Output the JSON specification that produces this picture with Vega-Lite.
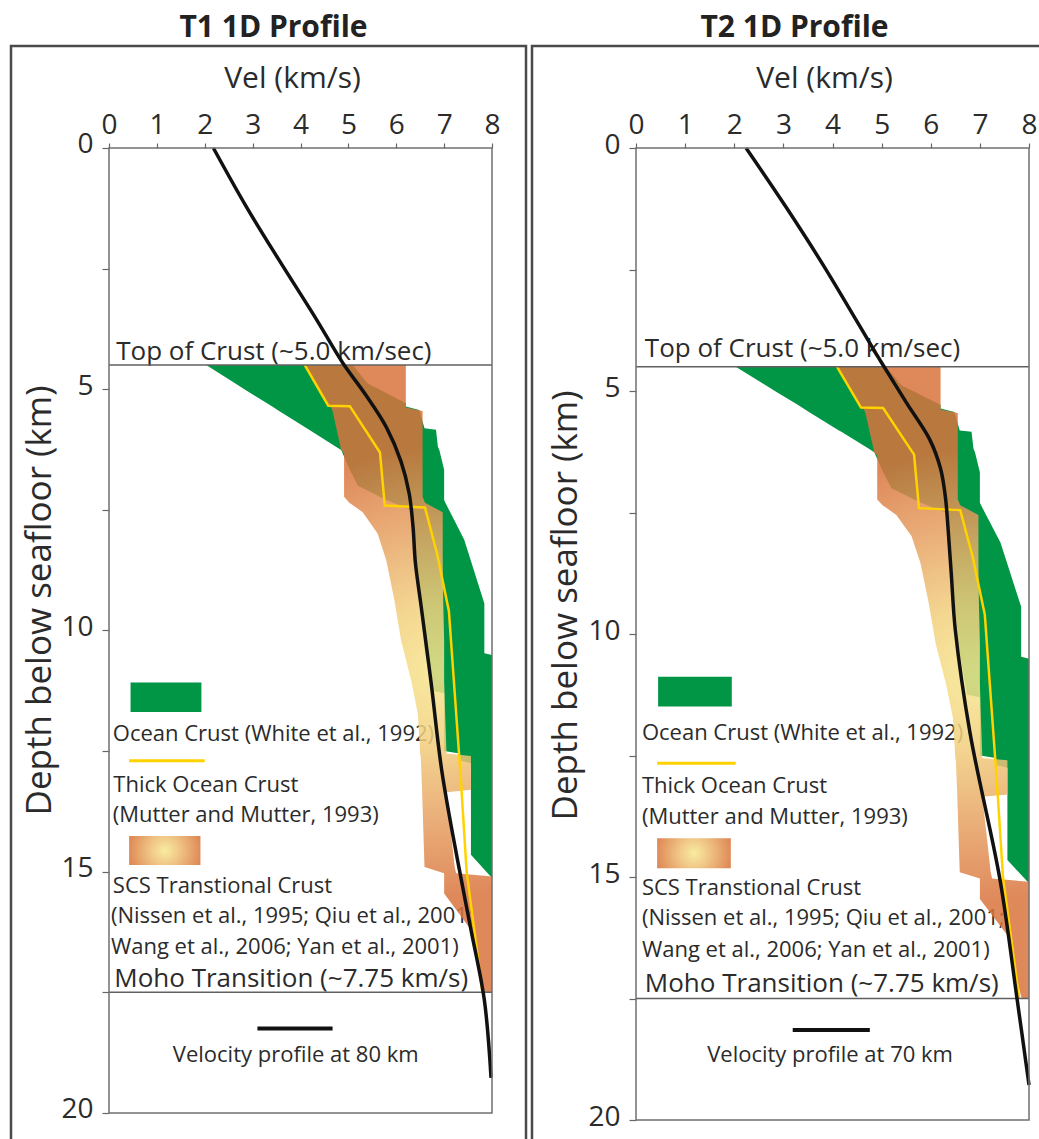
{
  "$schema": "https://vega.github.io/schema/vega-lite/v6.json",
  "background": "white",
  "padding": {"left": 9, "top": 11, "right": 0, "bottom": 0},
  "spacing": 2,
  "config": {
    "font": "Open Sans",
    "view": {"stroke": "#4a4a4a", "strokeWidth": 2.5},
    "text": {"color": "#2b2b2b"}
  },
  "datasets": {
    "box": [{"v0": 0, "v1": 8, "d0": 0, "d1": 20}],
    "horizons": [{"depth": 4.5}, {"depth": 17.5}],
    "green": [
      {"depth": 4.5, "vmin": 2.03, "vmax": 5.09},
      {"depth": 4.88, "vmin": 2.64, "vmax": 5.4},
      {"depth": 5.02, "vmin": 2.86, "vmax": 5.68},
      {"depth": 5.29, "vmin": 3.3, "vmax": 6.2},
      {"depth": 5.36, "vmin": 3.41, "vmax": 6.2},
      {"depth": 5.43, "vmin": 3.52, "vmax": 6.48},
      {"depth": 5.81, "vmin": 4.13, "vmax": 6.59},
      {"depth": 5.84, "vmin": 4.18, "vmax": 6.83},
      {"depth": 6.19, "vmin": 4.74, "vmax": 6.87},
      {"depth": 6.26, "vmin": 4.85, "vmax": 6.9},
      {"depth": 6.67, "vmin": 5.03, "vmax": 7.0},
      {"depth": 7.0, "vmin": 5.2, "vmax": 7.0},
      {"depth": 7.3, "vmin": 5.8, "vmax": 7.0},
      {"depth": 7.5, "vmin": 6.3, "vmax": 7.1},
      {"depth": 7.71, "vmin": 6.33, "vmax": 7.21},
      {"depth": 8.12, "vmin": 6.38, "vmax": 7.42},
      {"depth": 9.44, "vmin": 6.49, "vmax": 7.84},
      {"depth": 10.47, "vmin": 6.6, "vmax": 7.84},
      {"depth": 10.51, "vmin": 6.61, "vmax": 8.0},
      {"depth": 11.25, "vmin": 6.74, "vmax": 8.0},
      {"depth": 11.3, "vmin": 7.0, "vmax": 8.0},
      {"depth": 12.5, "vmin": 7.0, "vmax": 8.0},
      {"depth": 12.55, "vmin": 7.32, "vmax": 8.0},
      {"depth": 12.7, "vmin": 7.35, "vmax": 8.0},
      {"depth": 12.75, "vmin": 7.56, "vmax": 8.0},
      {"depth": 14.65, "vmin": 7.56, "vmax": 8.0},
      {"depth": 15.13, "vmin": 8.0, "vmax": 8.0}
    ],
    "orange": [
      {"depth": 4.5, "vmin": 4.09, "vmax": 6.2},
      {"depth": 5.34, "vmin": 4.58, "vmax": 6.2},
      {"depth": 5.38, "vmin": 4.64, "vmax": 6.2},
      {"depth": 5.45, "vmin": 4.67, "vmax": 6.55},
      {"depth": 6.26, "vmin": 4.85, "vmax": 6.55},
      {"depth": 6.33, "vmin": 4.91, "vmax": 6.55},
      {"depth": 7.23, "vmin": 4.91, "vmax": 6.55},
      {"depth": 7.35, "vmin": 5.02, "vmax": 6.6},
      {"depth": 7.55, "vmin": 5.3, "vmax": 6.97},
      {"depth": 7.99, "vmin": 5.61, "vmax": 6.97},
      {"depth": 8.54, "vmin": 5.79, "vmax": 6.97},
      {"depth": 9.37, "vmin": 5.96, "vmax": 6.98},
      {"depth": 10.2, "vmin": 6.1, "vmax": 7.0},
      {"depth": 11.03, "vmin": 6.31, "vmax": 7.0},
      {"depth": 11.72, "vmin": 6.45, "vmax": 7.02},
      {"depth": 12.55, "vmin": 6.5, "vmax": 7.05},
      {"depth": 12.6, "vmin": 6.51, "vmax": 7.56},
      {"depth": 13.3, "vmin": 6.54, "vmax": 7.56},
      {"depth": 13.35, "vmin": 6.54, "vmax": 7.05},
      {"depth": 14.9, "vmin": 6.59, "vmax": 7.22},
      {"depth": 15.03, "vmin": 7.0, "vmax": 7.25},
      {"depth": 15.1, "vmin": 7.0, "vmax": 8.0},
      {"depth": 15.45, "vmin": 7.0, "vmax": 8.0},
      {"depth": 16.2, "vmin": 7.56, "vmax": 8.0},
      {"depth": 17.17, "vmin": 7.77, "vmax": 8.0},
      {"depth": 17.5, "vmin": 7.85, "vmax": 8.0}
    ],
    "thick": [
      {"vel": 4.09, "depth": 4.5},
      {"vel": 4.58, "depth": 5.34},
      {"vel": 5.03, "depth": 5.35},
      {"vel": 5.66, "depth": 6.31},
      {"vel": 5.76, "depth": 7.41},
      {"vel": 6.6, "depth": 7.45},
      {"vel": 6.85, "depth": 8.4},
      {"vel": 7.1, "depth": 9.6},
      {"vel": 7.2, "depth": 11.0},
      {"vel": 7.35, "depth": 13.1},
      {"vel": 7.47, "depth": 15.0},
      {"vel": 7.8, "depth": 17.5}
    ],
    "t1curve": [
      {"vel": 2.18, "depth": 0},
      {"vel": 2.87, "depth": 1.22},
      {"vel": 3.55, "depth": 2.32},
      {"vel": 4.3, "depth": 3.5},
      {"vel": 4.88, "depth": 4.45},
      {"vel": 5.35, "depth": 5.1},
      {"vel": 5.8, "depth": 5.8},
      {"vel": 6.1, "depth": 6.5},
      {"vel": 6.27, "depth": 7.16},
      {"vel": 6.35, "depth": 7.85},
      {"vel": 6.4, "depth": 8.6},
      {"vel": 6.52, "depth": 9.5},
      {"vel": 6.73, "depth": 11.1},
      {"vel": 6.95, "depth": 12.9},
      {"vel": 7.28, "depth": 14.76},
      {"vel": 7.56, "depth": 16.2},
      {"vel": 7.84, "depth": 17.66},
      {"vel": 7.98, "depth": 19.27}
    ],
    "t2curve": [
      {"vel": 2.24, "depth": 0},
      {"vel": 3.05, "depth": 1.21},
      {"vel": 3.83, "depth": 2.44},
      {"vel": 4.88, "depth": 4.22},
      {"vel": 5.05, "depth": 4.5},
      {"vel": 5.51, "depth": 5.25},
      {"vel": 5.98, "depth": 6.0},
      {"vel": 6.2, "depth": 6.6},
      {"vel": 6.3, "depth": 7.2},
      {"vel": 6.35, "depth": 7.8},
      {"vel": 6.42, "depth": 8.8},
      {"vel": 6.5, "depth": 9.92},
      {"vel": 6.8, "depth": 12.04},
      {"vel": 7.41, "depth": 15.06},
      {"vel": 7.75, "depth": 17.46},
      {"vel": 8.0, "depth": 19.28}
    ],
    "t1small": [
      {"vel": 0.08, "depth": 12.3, "text": "Ocean Crust (White et al., 1992)"},
      {"vel": 0.09, "depth": 13.34, "text": "Thick Ocean Crust"},
      {"vel": 0.08, "depth": 13.96, "text": "(Mutter and Mutter, 1993)"},
      {"vel": 0.08, "depth": 15.45, "text": "SCS Transtional Crust"},
      {"vel": 0.04, "depth": 16.07, "text": "(Nissen et al., 1995; Qiu et al., 2001;"},
      {"vel": 0.04, "depth": 16.7, "text": "Wang et al., 2006; Yan et al., 2001)"}
    ],
    "t1big": [
      {"vel": 0.15, "depth": 4.39, "text": "Top of Crust (~5.0 km/sec)"},
      {"vel": 0.11, "depth": 17.38, "text": "Moho Transition (~7.75 km/s)"}
    ],
    "t1note": [{"vel": 3.9, "depth": 18.94, "text": "Velocity profile at 80 km"}],
    "t1key": [
      {"item": "ocean", "v0": 0.45, "v1": 1.93, "d0": 11.08, "d1": 11.69},
      {"item": "thick", "v0": 0.42, "v1": 2.0, "d0": 12.7},
      {"item": "scs", "v0": 0.42, "v1": 1.91, "d0": 14.26, "d1": 14.86},
      {"item": "profile", "v0": 3.1, "v1": 4.67, "d0": 18.25}
    ],
    "t2small": [
      {"vel": 0.12, "depth": 12.18, "text": "Ocean Crust (White et al., 1992)"},
      {"vel": 0.12, "depth": 13.28, "text": "Thick Ocean Crust"},
      {"vel": 0.12, "depth": 13.9, "text": "(Mutter and Mutter, 1993)"},
      {"vel": 0.12, "depth": 15.37, "text": "SCS Transtional Crust"},
      {"vel": 0.12, "depth": 15.99, "text": "(Nissen et al., 1995; Qiu et al., 2001;"},
      {"vel": 0.12, "depth": 16.64, "text": "Wang et al., 2006; Yan et al., 2001)"}
    ],
    "t2big": [
      {"vel": 0.18, "depth": 4.29, "text": "Top of Crust (~5.0 km/sec)"},
      {"vel": 0.18, "depth": 17.36, "text": "Moho Transition (~7.75 km/s)"}
    ],
    "t2note": [{"vel": 3.95, "depth": 18.8, "text": "Velocity profile at 70 km"}],
    "t2key": [
      {"item": "ocean", "v0": 0.45, "v1": 1.95, "d0": 10.88, "d1": 11.49},
      {"item": "thick", "v0": 0.43, "v1": 2.03, "d0": 12.66},
      {"item": "scs", "v0": 0.43, "v1": 1.93, "d0": 14.2, "d1": 14.82},
      {"item": "profile", "v0": 3.19, "v1": 4.76, "d0": 18.15}
    ]
  },
  "hconcat": [
    {
      "title": {"text": "T1 1D Profile", "fontSize": 30, "fontWeight": "bold", "color": "#222222", "anchor": "middle", "dx": 5, "offset": -21, "baseline": "alphabetic"},
      "width": 515,
      "height": 1104,
      "layer": [
        {
          "data": {"name": "t1small"},
          "mark": {"type": "text", "align": "left", "baseline": "alphabetic", "fontSize": 22},
          "encoding": {"x": {"field": "vel", "type": "quantitative"}, "y": {"field": "depth", "type": "quantitative"}, "text": {"field": "text"}}
        },
        {
          "data": {"name": "t1big"},
          "mark": {"type": "text", "align": "left", "baseline": "alphabetic", "fontSize": 26},
          "encoding": {"x": {"field": "vel", "type": "quantitative"}, "y": {"field": "depth", "type": "quantitative"}, "text": {"field": "text"}}
        },
        {
          "data": {"name": "t1note"},
          "mark": {"type": "text", "align": "center", "baseline": "alphabetic", "fontSize": 22},
          "encoding": {"x": {"field": "vel", "type": "quantitative"}, "y": {"field": "depth", "type": "quantitative"}, "text": {"field": "text"}}
        },
        {
          "data": {"name": "green"},
          "mark": {"type": "area", "orient": "horizontal", "color": "#009646", "opacity": 1},
          "encoding": {"y": {"field": "depth", "type": "quantitative"}, "x": {"field": "vmin", "type": "quantitative"}, "x2": {"field": "vmax"}}
        },
        {
          "data": {"name": "orange"},
          "mark": {"type": "area", "orient": "horizontal", "opacity": 0.85,
            "color": {"gradient": "radial", "x1": 0.565, "y1": 0.49, "r1": 0, "x2": 0.565, "y2": 0.49, "r2": 0.36,
              "stops": [{"offset": 0, "color": "#f7e68f"}, {"offset": 0.3, "color": "#f2d07e"}, {"offset": 0.65, "color": "#e6a062"}, {"offset": 1, "color": "#d9733d"}]}},
          "encoding": {"y": {"field": "depth", "type": "quantitative"}, "x": {"field": "vmin", "type": "quantitative"}, "x2": {"field": "vmax"}}
        },
        {
          "data": {"name": "thick"},
          "mark": {"type": "line", "color": "#ffd200", "strokeWidth": 2.5},
          "encoding": {"x": {"field": "vel", "type": "quantitative"}, "y": {"field": "depth", "type": "quantitative"}}
        },
        {
          "data": {"name": "horizons"},
          "mark": {"type": "rule", "color": "#606060", "strokeWidth": 1.5},
          "encoding": {"x": {"datum": 0, "type": "quantitative"}, "x2": {"datum": 8}, "y": {"field": "depth", "type": "quantitative"}}
        },
        {
          "data": {"name": "t1curve"},
          "mark": {"type": "line", "color": "#111111", "strokeWidth": 3.5, "interpolate": "catmull-rom"},
          "encoding": {"x": {"field": "vel", "type": "quantitative"}, "y": {"field": "depth", "type": "quantitative"}}
        },
        {
          "data": {"name": "t1key"},
          "transform": [{"filter": "datum.item === 'ocean'"}],
          "mark": {"type": "rect", "color": "#009646"},
          "encoding": {"x": {"field": "v0", "type": "quantitative"}, "x2": {"field": "v1"}, "y": {"field": "d0", "type": "quantitative"}, "y2": {"field": "d1"}}
        },
        {
          "data": {"name": "t1key"},
          "transform": [{"filter": "datum.item === 'scs'"}],
          "mark": {"type": "rect", "opacity": 0.9,
            "color": {"gradient": "radial", "x1": 0.5, "y1": 0.5, "r1": 0, "x2": 0.5, "y2": 0.5, "r2": 0.55,
              "stops": [{"offset": 0, "color": "#f7ea95"}, {"offset": 0.35, "color": "#efc27a"}, {"offset": 1, "color": "#d9733d"}]}},
          "encoding": {"x": {"field": "v0", "type": "quantitative"}, "x2": {"field": "v1"}, "y": {"field": "d0", "type": "quantitative"}, "y2": {"field": "d1"}}
        },
        {
          "data": {"name": "t1key"},
          "transform": [{"filter": "datum.item === 'thick'"}],
          "mark": {"type": "rule", "color": "#ffd200", "strokeWidth": 3},
          "encoding": {"x": {"field": "v0", "type": "quantitative"}, "x2": {"field": "v1"}, "y": {"field": "d0", "type": "quantitative"}}
        },
        {
          "data": {"name": "t1key"},
          "transform": [{"filter": "datum.item === 'profile'"}],
          "mark": {"type": "rule", "color": "#111111", "strokeWidth": 4},
          "encoding": {"x": {"field": "v0", "type": "quantitative"}, "x2": {"field": "v1"}, "y": {"field": "d0", "type": "quantitative"}}
        },
        {
          "data": {"name": "box"},
          "mark": {"type": "rect", "fillOpacity": 0, "fill": "white", "stroke": "#707070", "strokeWidth": 1.5},
          "encoding": {
            "x": {"field": "v0", "type": "quantitative",
              "scale": {"domain": [-2.047, 8.71], "nice": false, "zero": false},
              "axis": {"orient": "top", "offset": -102, "values": [0, 0.5, 1, 1.5, 2, 2.5, 3, 3.5, 4, 4.5, 5, 5.5, 6, 6.5, 7, 7.5, 8],
                "labelExpr": "datum.value % 1 === 0 ? '' + datum.value : ''", "domain": false, "grid": false,
                "tickSize": 5, "tickColor": "#666666", "tickWidth": 1.2, "labelFontSize": 28, "labelColor": "#2b2b2b",
                "labelPadding": 10, "labelBaseline": "alphabetic", "labelFlush": false, "labelOverlap": false,
                "title": "Vel (km/s)", "titleFontSize": 30, "titleFontWeight": "normal", "titleColor": "#2b2b2b",
                "titleX": 281, "titleY": -61, "titleBaseline": "alphabetic", "titleAlign": "center"}},
            "x2": {"field": "v1"},
            "y": {"field": "d0", "type": "quantitative",
              "scale": {"domain": [-2.114, 20.767], "nice": false, "zero": false, "reverse": true},
              "axis": {"orient": "left", "offset": -98, "values": [0, 2.5, 5, 7.5, 10, 12.5, 15, 17.5, 20],
                "labelExpr": "datum.value % 5 === 0 ? '' + datum.value : ''", "domain": false, "grid": false,
                "tickSize": 7, "tickColor": "#666666", "tickWidth": 1.2, "labelFontSize": 28, "labelColor": "#2b2b2b",
                "labelPadding": 9, "labelBaseline": "middle", "labelOffset": -3, "labelFlush": false, "labelOverlap": false,
                "title": "Depth below seafloor (km)", "titleFontSize": 35, "titleFontWeight": "normal", "titleColor": "#2b2b2b",
                "titleX": -70, "titleY": 554, "titleAngle": 270, "titleAlign": "center", "titleBaseline": "middle"}},
            "y2": {"field": "d1"}
          }
        }
      ]
    },
    {
      "title": {"text": "T2 1D Profile", "fontSize": 30, "fontWeight": "bold", "color": "#222222", "anchor": "middle", "dx": 5, "offset": -21, "baseline": "alphabetic"},
      "width": 515,
      "height": 1104,
      "layer": [
        {
          "data": {"name": "t2small"},
          "mark": {"type": "text", "align": "left", "baseline": "alphabetic", "fontSize": 22},
          "encoding": {"x": {"field": "vel", "type": "quantitative"}, "y": {"field": "depth", "type": "quantitative"}, "text": {"field": "text"}}
        },
        {
          "data": {"name": "t2big"},
          "mark": {"type": "text", "align": "left", "baseline": "alphabetic", "fontSize": 26},
          "encoding": {"x": {"field": "vel", "type": "quantitative"}, "y": {"field": "depth", "type": "quantitative"}, "text": {"field": "text"}}
        },
        {
          "data": {"name": "t2note"},
          "mark": {"type": "text", "align": "center", "baseline": "alphabetic", "fontSize": 22},
          "encoding": {"x": {"field": "vel", "type": "quantitative"}, "y": {"field": "depth", "type": "quantitative"}, "text": {"field": "text"}}
        },
        {
          "data": {"name": "green"},
          "mark": {"type": "area", "orient": "horizontal", "color": "#009646", "opacity": 1},
          "encoding": {"y": {"field": "depth", "type": "quantitative"}, "x": {"field": "vmin", "type": "quantitative"}, "x2": {"field": "vmax"}}
        },
        {
          "data": {"name": "orange"},
          "mark": {"type": "area", "orient": "horizontal", "opacity": 0.85,
            "color": {"gradient": "radial", "x1": 0.565, "y1": 0.49, "r1": 0, "x2": 0.565, "y2": 0.49, "r2": 0.36,
              "stops": [{"offset": 0, "color": "#f7e68f"}, {"offset": 0.3, "color": "#f2d07e"}, {"offset": 0.65, "color": "#e6a062"}, {"offset": 1, "color": "#d9733d"}]}},
          "encoding": {"y": {"field": "depth", "type": "quantitative"}, "x": {"field": "vmin", "type": "quantitative"}, "x2": {"field": "vmax"}}
        },
        {
          "data": {"name": "thick"},
          "mark": {"type": "line", "color": "#ffd200", "strokeWidth": 2.5},
          "encoding": {"x": {"field": "vel", "type": "quantitative"}, "y": {"field": "depth", "type": "quantitative"}}
        },
        {
          "data": {"name": "horizons"},
          "mark": {"type": "rule", "color": "#606060", "strokeWidth": 1.5},
          "encoding": {"x": {"datum": 0, "type": "quantitative"}, "x2": {"datum": 8}, "y": {"field": "depth", "type": "quantitative"}}
        },
        {
          "data": {"name": "t2curve"},
          "mark": {"type": "line", "color": "#111111", "strokeWidth": 3.5, "interpolate": "catmull-rom"},
          "encoding": {"x": {"field": "vel", "type": "quantitative"}, "y": {"field": "depth", "type": "quantitative"}}
        },
        {
          "data": {"name": "t2key"},
          "transform": [{"filter": "datum.item === 'ocean'"}],
          "mark": {"type": "rect", "color": "#009646"},
          "encoding": {"x": {"field": "v0", "type": "quantitative"}, "x2": {"field": "v1"}, "y": {"field": "d0", "type": "quantitative"}, "y2": {"field": "d1"}}
        },
        {
          "data": {"name": "t2key"},
          "transform": [{"filter": "datum.item === 'scs'"}],
          "mark": {"type": "rect", "opacity": 0.9,
            "color": {"gradient": "radial", "x1": 0.5, "y1": 0.5, "r1": 0, "x2": 0.5, "y2": 0.5, "r2": 0.55,
              "stops": [{"offset": 0, "color": "#f7ea95"}, {"offset": 0.35, "color": "#efc27a"}, {"offset": 1, "color": "#d9733d"}]}},
          "encoding": {"x": {"field": "v0", "type": "quantitative"}, "x2": {"field": "v1"}, "y": {"field": "d0", "type": "quantitative"}, "y2": {"field": "d1"}}
        },
        {
          "data": {"name": "t2key"},
          "transform": [{"filter": "datum.item === 'thick'"}],
          "mark": {"type": "rule", "color": "#ffd200", "strokeWidth": 3},
          "encoding": {"x": {"field": "v0", "type": "quantitative"}, "x2": {"field": "v1"}, "y": {"field": "d0", "type": "quantitative"}}
        },
        {
          "data": {"name": "t2key"},
          "transform": [{"filter": "datum.item === 'profile'"}],
          "mark": {"type": "rule", "color": "#111111", "strokeWidth": 4},
          "encoding": {"x": {"field": "v0", "type": "quantitative"}, "x2": {"field": "v1"}, "y": {"field": "d0", "type": "quantitative"}}
        },
        {
          "data": {"name": "box"},
          "mark": {"type": "rect", "fillOpacity": 0, "fill": "white", "stroke": "#707070", "strokeWidth": 1.5},
          "encoding": {
            "x": {"field": "v0", "type": "quantitative",
              "scale": {"domain": [-2.117, 8.366], "nice": false, "zero": false},
              "axis": {"orient": "top", "offset": -102, "values": [0, 0.5, 1, 1.5, 2, 2.5, 3, 3.5, 4, 4.5, 5, 5.5, 6, 6.5, 7, 7.5, 8],
                "labelExpr": "datum.value % 1 === 0 ? '' + datum.value : ''", "domain": false, "grid": false,
                "tickSize": 5, "tickColor": "#666666", "tickWidth": 1.2, "labelFontSize": 28, "labelColor": "#2b2b2b",
                "labelPadding": 10, "labelBaseline": "alphabetic", "labelFlush": false, "labelOverlap": false,
                "title": "Vel (km/s)", "titleFontSize": 30, "titleFontWeight": "normal", "titleColor": "#2b2b2b",
                "titleX": 292, "titleY": -61, "titleBaseline": "alphabetic", "titleAlign": "center"}},
            "x2": {"field": "v1"},
            "y": {"field": "d0", "type": "quantitative",
              "scale": {"domain": [-2.099, 20.617], "nice": false, "zero": false, "reverse": true},
              "axis": {"orient": "left", "offset": -104, "values": [0, 2.5, 5, 7.5, 10, 12.5, 15, 17.5, 20],
                "labelExpr": "datum.value % 5 === 0 ? '' + datum.value : ''", "domain": false, "grid": false,
                "tickSize": 7, "tickColor": "#666666", "tickWidth": 1.2, "labelFontSize": 28, "labelColor": "#2b2b2b",
                "labelPadding": 9, "labelBaseline": "middle", "labelOffset": -3, "labelFlush": false, "labelOverlap": false,
                "title": "Depth below seafloor (km)", "titleFontSize": 35, "titleFontWeight": "normal", "titleColor": "#2b2b2b",
                "titleX": -71, "titleY": 559, "titleAngle": 270, "titleAlign": "center", "titleBaseline": "middle"}},
            "y2": {"field": "d1"}
          }
        }
      ]
    }
  ]
}
